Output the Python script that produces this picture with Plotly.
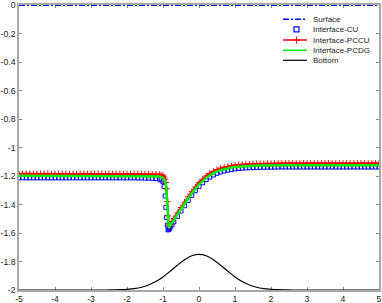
import plotly.graph_objects as go

# ---------------- data ----------------
x_iface = [-5.0, -4.9, -4.8, -4.7, -4.6, -4.5, -4.4, -4.3, -4.2, -4.1,
           -4.0, -3.9, -3.8, -3.7, -3.6, -3.5, -3.4, -3.3, -3.2, -3.1,
           -3.0, -2.9, -2.8, -2.7, -2.6, -2.5, -2.4, -2.3, -2.2, -2.1,
           -2.0, -1.9, -1.8, -1.7, -1.6, -1.5, -1.4, -1.3, -1.2, -1.1,
           -1.05, -1.0, -0.97, -0.94, -0.92, -0.9, -0.88, -0.86, -0.84, -0.82,
           -0.8, -0.75,
           -0.7, -0.6, -0.5, -0.4, -0.3, -0.2, -0.1, 0.0, 0.1, 0.2,
           0.3, 0.4, 0.5, 0.6, 0.7, 0.8, 0.9, 1.0, 1.1, 1.2,
           1.3, 1.4, 1.5, 1.6, 1.7, 1.8, 1.9, 2.0, 2.1, 2.2,
           2.3, 2.4, 2.5, 2.6, 2.7, 2.8, 2.9, 3.0, 3.1, 3.2,
           3.3, 3.4, 3.5, 3.6, 3.7, 3.8, 3.9, 4.0, 4.1, 4.2,
           4.3, 4.4, 4.5, 4.6, 4.7, 4.8, 4.9, 5.0]

y_cu = [-1.213, -1.213, -1.213, -1.213, -1.213, -1.213, -1.213, -1.213, -1.213, -1.213,
        -1.213, -1.213, -1.213, -1.213, -1.213, -1.213, -1.213, -1.213, -1.213, -1.213,
        -1.213, -1.213, -1.213, -1.213, -1.213, -1.213, -1.213, -1.213, -1.213, -1.213,
        -1.213, -1.213, -1.213, -1.214, -1.214, -1.215, -1.215, -1.216, -1.218, -1.222,
        -1.228, -1.240, -1.275, -1.340, -1.420, -1.490, -1.545, -1.578, -1.575, -1.568,
        -1.560, -1.542,
        -1.522, -1.484, -1.446, -1.409, -1.372, -1.336, -1.303, -1.273, -1.248, -1.226,
        -1.208, -1.193, -1.181, -1.172, -1.165, -1.159, -1.154, -1.150, -1.147, -1.145,
        -1.143, -1.142, -1.141, -1.140, -1.139, -1.139, -1.138, -1.138, -1.138, -1.137,
        -1.137, -1.137, -1.137, -1.137, -1.137, -1.137, -1.137, -1.137, -1.137, -1.137,
        -1.137, -1.137, -1.137, -1.137, -1.137, -1.137, -1.137, -1.137, -1.137, -1.137,
        -1.137, -1.137, -1.137, -1.137, -1.137, -1.137, -1.137, -1.137]

y_pccu = [-1.184, -1.184, -1.184, -1.184, -1.184, -1.184, -1.184, -1.184, -1.184, -1.184,
          -1.184, -1.184, -1.184, -1.184, -1.184, -1.184, -1.184, -1.184, -1.184, -1.184,
          -1.184, -1.184, -1.184, -1.184, -1.184, -1.184, -1.184, -1.184, -1.184, -1.184,
          -1.184, -1.184, -1.184, -1.184, -1.185, -1.185, -1.186, -1.186, -1.187, -1.189,
          -1.192, -1.198, -1.207, -1.222, -1.245, -1.290, -1.380, -1.480, -1.545, -1.550,
          -1.540, -1.518,
          -1.498, -1.459, -1.421, -1.383, -1.346, -1.310, -1.277, -1.247, -1.222, -1.200,
          -1.182, -1.167, -1.155, -1.146, -1.139, -1.133, -1.128, -1.124, -1.121, -1.119,
          -1.117, -1.116, -1.115, -1.114, -1.113, -1.113, -1.112, -1.112, -1.112, -1.111,
          -1.111, -1.111, -1.111, -1.111, -1.111, -1.111, -1.111, -1.111, -1.111, -1.111,
          -1.111, -1.111, -1.111, -1.111, -1.111, -1.111, -1.111, -1.111, -1.111, -1.111,
          -1.111, -1.111, -1.111, -1.111, -1.111, -1.111, -1.111, -1.111]

y_pcdg = [-1.199, -1.199, -1.199, -1.199, -1.199, -1.199, -1.199, -1.199, -1.199, -1.199,
          -1.199, -1.199, -1.199, -1.199, -1.199, -1.199, -1.199, -1.199, -1.199, -1.199,
          -1.199, -1.199, -1.199, -1.199, -1.199, -1.199, -1.199, -1.199, -1.199, -1.199,
          -1.199, -1.199, -1.199, -1.199, -1.200, -1.200, -1.201, -1.201, -1.202, -1.204,
          -1.207, -1.213, -1.222, -1.240, -1.265, -1.320, -1.420, -1.520, -1.562, -1.556,
          -1.548, -1.528,
          -1.508, -1.470, -1.432, -1.395, -1.358, -1.322, -1.290, -1.260, -1.235, -1.213,
          -1.195, -1.180, -1.168, -1.159, -1.152, -1.146, -1.141, -1.137, -1.134, -1.132,
          -1.130, -1.129, -1.128, -1.127, -1.127, -1.126, -1.126, -1.126, -1.125, -1.125,
          -1.125, -1.125, -1.125, -1.125, -1.125, -1.125, -1.125, -1.125, -1.125, -1.125,
          -1.125, -1.125, -1.125, -1.125, -1.125, -1.125, -1.125, -1.125, -1.125, -1.125,
          -1.125, -1.125, -1.125, -1.125, -1.125, -1.125, -1.125, -1.125]

x_surface = [-5.0, 5.0]
y_surface = [0.0, 0.0]

x_bottom = [-5.0, -4.6, -4.2, -3.8, -3.4, -3.0, -2.8, -2.6, -2.4, -2.2,
            -2.0, -1.8, -1.6, -1.4, -1.2, -1.0, -0.8, -0.6, -0.4, -0.2,
            0.0, 0.2, 0.4, 0.6, 0.8, 1.0, 1.2, 1.4, 1.6, 1.8,
            2.0, 2.2, 2.4, 2.6, 2.8, 3.0, 3.4, 3.8, 4.2, 4.6, 5.0]
y_bottom = [-2.0, -2.0, -2.0, -2.0, -2.0, -2.0, -2.0, -2.0, -1.999, -1.998,
            -1.995, -1.990, -1.981, -1.965, -1.941, -1.908, -1.868, -1.826, -1.787, -1.760,
            -1.750, -1.760, -1.787, -1.826, -1.868, -1.908, -1.941, -1.965, -1.981, -1.990,
            -1.995, -1.998, -1.999, -2.0, -2.0, -2.0, -2.0, -2.0, -2.0, -2.0, -2.0]

x_ticks = [-5, -4, -3, -2, -1, 0, 1, 2, 3, 4, 5]
y_ticks = [0, -0.2, -0.4, -0.6, -0.8, -1, -1.2, -1.4, -1.6, -1.8, -2]
y_ticklabels = ["0", "-0.2", "-0.4", "-0.6", "-0.8", "-1", "-1.2", "-1.4", "-1.6", "-1.8", "-2"]

legend_names = ["Surface", "Interface-CU", "Interface-PCCU", "Interface-PCDG", "Bottom"]

# ---------------- figure ----------------
W, H = 382, 303
ML, MR, MT, MB = 19, 3, 5, 13
FONT = "Liberation Sans, Arial, sans-serif"

BLUE = "#0000ff"
RED = "#ff0000"
GREEN = "#00ee00"

fig = go.Figure()

fig.add_trace(go.Scatter(x=x_surface, y=y_surface, mode="lines",
                         line=dict(color=BLUE, width=2, dash="6px,2px,2px,2px"),
                         cliponaxis=False, showlegend=False))
fig.add_trace(go.Scatter(x=x_iface, y=y_cu, mode="markers",
                         marker=dict(symbol="square-open", size=4, color=BLUE,
                                     line=dict(color=BLUE, width=1)),
                         showlegend=False))
fig.add_trace(go.Scatter(x=x_iface, y=y_pccu, mode="lines+markers",
                         line=dict(color=RED, width=2),
                         marker=dict(symbol="cross-thin", size=4.5, color=RED,
                                     line=dict(color=RED, width=1)),
                         showlegend=False))
fig.add_trace(go.Scatter(x=x_iface, y=y_pcdg, mode="lines",
                         line=dict(color=GREEN, width=2.5),
                         showlegend=False))
fig.add_trace(go.Scatter(x=x_bottom, y=y_bottom, mode="lines",
                         line=dict(color="black", width=1.2, shape="spline"),
                         showlegend=False))

# ---- compact legend drawn on a pixel-coordinate overlay axis ----
PX0, PX1 = ML, W - MR
PY0, PY1 = MT, H - MB
leg_y = [19.3, 29.3, 40.0, 50.3, 60.3]
lx0, lx1, lxm, ltx = 283, 307, 296.5, 311

fig.add_trace(go.Scatter(x=[lx0, lx1], y=[leg_y[0]] * 2, xaxis="x2", yaxis="y2",
                         mode="lines", line=dict(color=BLUE, width=1.5, dash="6px,2px,2px,2px"),
                         showlegend=False, hoverinfo="skip"))
fig.add_trace(go.Scatter(x=[lxm], y=[leg_y[1]], xaxis="x2", yaxis="y2", mode="markers",
                         marker=dict(symbol="square-open", size=5, color=BLUE,
                                     line=dict(color=BLUE, width=1.2)),
                         showlegend=False, hoverinfo="skip"))
fig.add_trace(go.Scatter(x=[lx0, lx1], y=[leg_y[2]] * 2, xaxis="x2", yaxis="y2",
                         mode="lines", line=dict(color=RED, width=1.5),
                         showlegend=False, hoverinfo="skip"))
fig.add_trace(go.Scatter(x=[lxm], y=[leg_y[2]], xaxis="x2", yaxis="y2", mode="markers",
                         marker=dict(symbol="cross-thin", size=5, color=RED,
                                     line=dict(color=RED, width=1)),
                         showlegend=False, hoverinfo="skip"))
fig.add_trace(go.Scatter(x=[lx0, lx1], y=[leg_y[3]] * 2, xaxis="x2", yaxis="y2",
                         mode="lines", line=dict(color=GREEN, width=1.5),
                         showlegend=False, hoverinfo="skip"))
fig.add_trace(go.Scatter(x=[lx0, lx1], y=[leg_y[4]] * 2, xaxis="x2", yaxis="y2",
                         mode="lines", line=dict(color="black", width=1.2),
                         showlegend=False, hoverinfo="skip"))
for name, yy in zip(legend_names, leg_y):
    fig.add_annotation(x=ltx, y=yy, xref="x2", yref="y2", text=name, showarrow=False,
                       xanchor="left", yanchor="middle",
                       font=dict(family=FONT, size=8, color="#222222"))

axis_common = dict(showline=True, linecolor="#a8a8a8", linewidth=1.5, mirror="all",
                   ticks="inside", ticklen=3, tickcolor="#888888", tickwidth=1,
                   showgrid=False, zeroline=False, automargin=False,
                   ticklabelstandoff=0, layer="below traces",
                   tickfont=dict(family=FONT, size=8.7, color="#222222"))

fig.update_layout(
    width=W, height=H,
    margin=dict(l=ML, r=MR, t=MT, b=MB, pad=0),
    paper_bgcolor="white", plot_bgcolor="white",
    showlegend=False,
    xaxis=dict(range=[-5, 5], tickvals=x_ticks, ticktext=[str(v) for v in x_ticks],
               **axis_common),
    yaxis=dict(range=[-2, 0], tickvals=y_ticks, ticktext=y_ticklabels, **axis_common),
    xaxis2=dict(overlaying="x", range=[PX0, PX1], visible=False, fixedrange=True),
    yaxis2=dict(overlaying="y", range=[PY1, PY0], visible=False, fixedrange=True),
)

fig.write_html("out.html", config={"displayModeBar": False},
               post_script="document.body.style.margin='0';document.body.style.padding='0';")
